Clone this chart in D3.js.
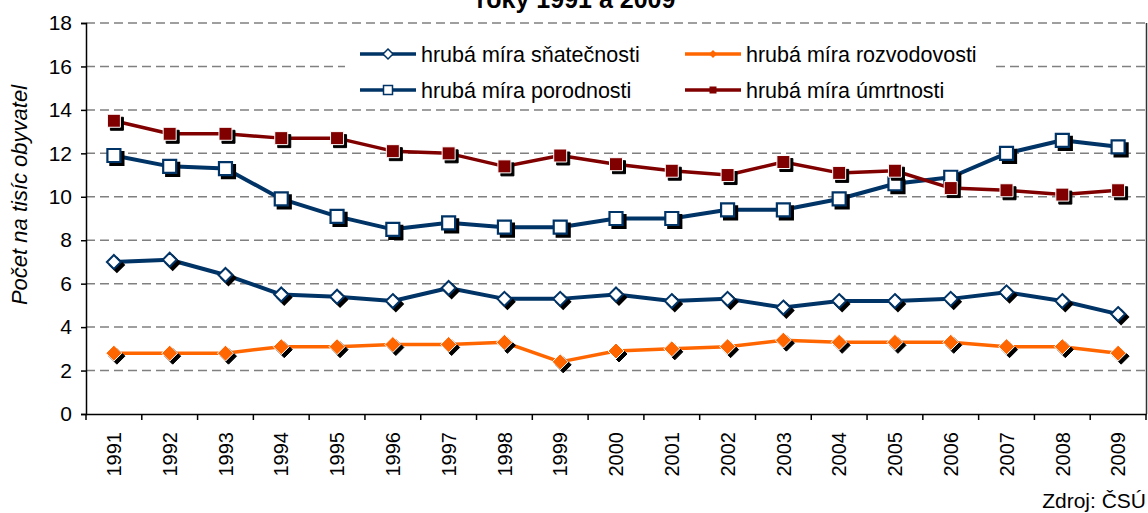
<!DOCTYPE html>
<html lang="cs">
<head>
  <meta charset="UTF-8">
  <title>Hrubé míry</title>
  <script src="https://d3js.org/d3.v7.min.js"></script>
  <style>
    body { margin: 0; background: #fff; }
    svg { width: 1148px; height: 513px; display: block; font-family: Arial, "Liberation Sans", sans-serif; }
  </style>
</head>
<body>
  <svg></svg>

  <script>
    const years = [`1991`, `1992`, `1993`, `1994`, `1995`, `1996`, `1997`, `1998`, `1999`, `2000`,
      `2001`, `2002`, `2003`, `2004`, `2005`, `2006`, `2007`, `2008`, `2009`];
    const snatecnost = [7.0, 7.1, 6.4, 5.5, 5.4, 5.2, 5.8, 5.3, 5.3, 5.5, 5.2, 5.3, 4.9, 5.2, 5.2, 5.3, 5.6, 5.2, 4.6];
    const rozvodovost = [2.8, 2.8, 2.8, 3.1, 3.1, 3.2, 3.2, 3.3, 2.4, 2.9, 3.0, 3.1, 3.4, 3.3, 3.3, 3.3, 3.1, 3.1, 2.8];
    const porodnost = [11.9, 11.4, 11.3, 9.9, 9.1, 8.5, 8.8, 8.6, 8.6, 9.0, 9.0, 9.4, 9.4, 9.9, 10.6, 10.9, 12.0, 12.6, 12.3];
    const umrtnost = [13.5, 12.9, 12.9, 12.7, 12.7, 12.1, 12.0, 11.4, 11.9, 11.5, 11.2, 11.0, 11.6, 11.1, 11.2, 10.4, 10.3, 10.1, 10.3];
    const yTicks = [0, 2, 4, 6, 8, 10, 12, 14, 16, 18];

    const series = [
      {name: `hrubá míra sňatečnosti`, values: snatecnost, color: `#003366`, marker: `diamondHollow`},
      {name: `hrubá míra rozvodovosti`, values: rozvodovost, color: `#FF6600`, marker: `diamondFilled`},
      {name: `hrubá míra porodnosti`, values: porodnost, color: `#003366`, marker: `squareHollow`},
      {name: `hrubá míra úmrtnosti`, values: umrtnost, color: `#800000`, marker: `squareFilled`},
    ];

    const margin = {top: 23, bottom: 99, left: 86, right: 2};
    const width = 1148;
    const height = 513;

    const xScale = d3.scaleBand()
      .domain(years)
      .range([margin.left, width - margin.right])
      .padding(0);

    const yScale = d3.scaleLinear()
      .domain([0, 18])
      .range([height - margin.bottom, margin.top]);

    const svg = d3.select(`svg`);

    // title (top cut off in the original)
    svg.append(`text`)
      .attr(`x`, 576)
      .attr(`y`, 8)
      .attr(`text-anchor`, `middle`)
      .attr(`font-size`, 25)
      .attr(`font-weight`, `bold`)
      .text(`roky 1991 a 2009`);

    // gridlines
    svg.append(`g`)
      .selectAll(`line`)
      .data(yTicks.filter(d => d > 0))
      .enter()
      .append(`line`)
      .attr(`x1`, margin.left)
      .attr(`x2`, width - margin.right)
      .attr(`y1`, d => yScale(d))
      .attr(`y2`, d => yScale(d))
      .attr(`stroke`, `#808080`)
      .attr(`stroke-width`, 1.5)
      .attr(`stroke-dasharray`, `9,5`);

    // right border
    svg.append(`line`)
      .attr(`x1`, width - margin.right + 0.5)
      .attr(`x2`, width - margin.right + 0.5)
      .attr(`y1`, yScale(18))
      .attr(`y2`, yScale(0))
      .attr(`stroke`, `#333`)
      .attr(`stroke-width`, 1.5);

    // y axis
    const yAxis = d3.axisLeft(yScale).tickValues(yTicks).tickSize(5).tickPadding(9);
    const yG = svg.append(`g`)
      .attr(`transform`, `translate(${margin.left}, 0)`)
      .call(yAxis);
    yG.select(`.domain`).attr(`stroke`, `#000`).attr(`stroke-width`, 1.5);
    yG.selectAll(`.tick line`).attr(`stroke-width`, 1.5);
    yG.selectAll(`text`).attr(`font-size`, 21).attr(`font-family`, `Arial, "Liberation Sans", sans-serif`).attr(`fill`, `#000`);

    // x axis
    const xAxis = d3.axisBottom(xScale).tickSize(0).tickSizeOuter(0);
    const xG = svg.append(`g`)
      .attr(`transform`, `translate(0, ${yScale(0)})`)
      .call(xAxis);
    xG.select(`.domain`).attr(`stroke`, `#000`).attr(`stroke-width`, 1.5);
    xG.selectAll(`text`)
      .attr(`font-size`, 20)
      .attr(`font-family`, `Arial, "Liberation Sans", sans-serif`)
      .attr(`fill`, `#000`)
      .attr(`text-anchor`, `end`)
      .attr(`transform`, `rotate(-90)`)
      .attr(`x`, -18)
      .attr(`y`, 0)
      .attr(`dy`, `0.36em`);

    const boundaries = years.map(d => xScale(d)).concat([xScale.range()[1]]);
    svg.append(`g`)
      .selectAll(`line`)
      .data(boundaries)
      .enter()
      .append(`line`)
      .attr(`x1`, d => d)
      .attr(`x2`, d => d)
      .attr(`y1`, yScale(0))
      .attr(`y2`, yScale(0) + 6)
      .attr(`stroke`, `#000`)
      .attr(`stroke-width`, 1.5);

    // y axis title
    svg.append(`text`)
      .attr(`transform`, `translate(27, 195) rotate(-90)`)
      .attr(`text-anchor`, `middle`)
      .attr(`font-size`, 22)
      .attr(`font-style`, `italic`)
      .text(`Počet na tisíc obyvatel`);

    // source
    svg.append(`text`)
      .attr(`x`, 1146)
      .attr(`y`, 508)
      .attr(`text-anchor`, `end`)
      .attr(`font-size`, 21)
      .text(`Zdroj: ČSÚ`);

    const diamond = r => `M0,${-r}L${r},0L0,${r}L${-r},0Z`;
    const square = r => `M${-r},${-r}H${r}V${r}H${-r}Z`;

    const markerStyle = {
      diamondHollow: {path: diamond(7), fill: `#fff`, stroke: `#003366`, sw: 2},
      diamondFilled: {path: diamond(8), fill: `#FF6600`, stroke: `#fff`, sw: 1},
      squareHollow: {path: square(6.5), fill: `#fff`, stroke: `#003366`, sw: 2.2},
      squareFilled: {path: square(6.5), fill: `#800000`, stroke: `#fff`, sw: 1},
    };

    const line = d3.line()
      .x((d, i) => xScale(years[i]) + xScale.bandwidth() / 2)
      .y(d => yScale(d));

    series.forEach(s => {
      const g = svg.append(`g`);
      g.append(`path`)
        .attr(`d`, line(s.values))
        .attr(`fill`, `none`)
        .attr(`stroke`, s.color)
        .attr(`stroke-width`, s.color === `#003366` ? 4 : 3.5)
        .attr(`stroke-linejoin`, `round`);

      const m = markerStyle[s.marker];
      g.selectAll(`path.shadow`)
        .data(s.values)
        .enter()
        .append(`path`)
        .attr(`class`, `shadow`)
        .attr(`d`, m.path)
        .attr(`transform`, (d, i) => `translate(${xScale(years[i]) + xScale.bandwidth() / 2 + 3}, ${yScale(d) + 3})`)
        .attr(`fill`, `#000`)
        .attr(`stroke`, `#000`)
        .attr(`stroke-width`, m.sw);

      g.selectAll(`path.mark`)
        .data(s.values)
        .enter()
        .append(`path`)
        .attr(`class`, `mark`)
        .attr(`d`, m.path)
        .attr(`transform`, (d, i) => `translate(${xScale(years[i]) + xScale.bandwidth() / 2}, ${yScale(d)})`)
        .attr(`fill`, m.fill)
        .attr(`stroke`, m.stroke)
        .attr(`stroke-width`, m.sw);
    });

    // legend
    const legend = svg.append(`g`);
    legend.append(`rect`)
      .attr(`x`, 345)
      .attr(`y`, 34)
      .attr(`width`, 648)
      .attr(`height`, 72)
      .attr(`fill`, `#fff`);

    const legendMarker = {
      diamondHollow: {path: diamond(5), fill: `#fff`, stroke: `#003366`, sw: 1.5},
      diamondFilled: {path: diamond(4), fill: `#FF6600`, stroke: `#FF6600`, sw: 0},
      squareHollow: {path: square(4.5), fill: `#fff`, stroke: `#003366`, sw: 1.5},
      squareFilled: {path: square(3.5), fill: `#800000`, stroke: `#800000`, sw: 0},
    };
    const legendPos = [[360, 54], [685, 54], [360, 90], [685, 90]];

    series.forEach((s, i) => {
      const [lx, ly] = legendPos[i];
      const item = legend.append(`g`).attr(`transform`, `translate(${lx}, ${ly})`);
      item.append(`line`)
        .attr(`x1`, 0)
        .attr(`x2`, 56)
        .attr(`y1`, 0)
        .attr(`y2`, 0)
        .attr(`stroke`, s.color)
        .attr(`stroke-width`, 3.5);
      const m = legendMarker[s.marker];
      item.append(`path`)
        .attr(`d`, m.path)
        .attr(`transform`, `translate(28, 0)`)
        .attr(`fill`, m.fill)
        .attr(`stroke`, m.stroke)
        .attr(`stroke-width`, m.sw);
      item.append(`text`)
        .attr(`x`, 61)
        .attr(`y`, 0)
        .attr(`dy`, `0.35em`)
        .attr(`font-size`, 21.5)
        .text(s.name);
    });
  </script>
</body>
</html>
